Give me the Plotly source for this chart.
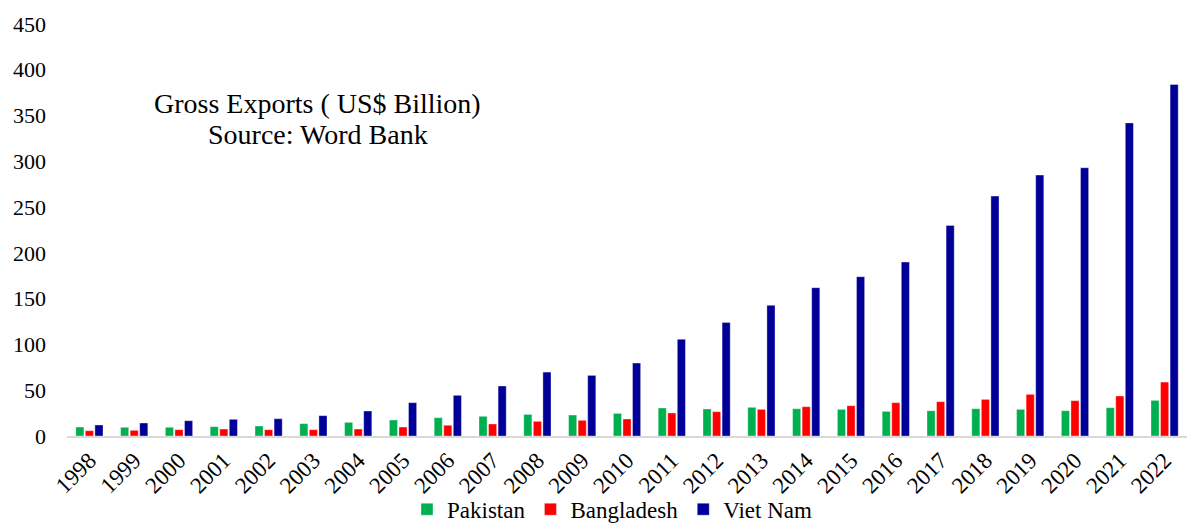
import plotly.graph_objects as go

# Gross exports, US$ billion
years = [str(y) for y in range(1998, 2023)]
pakistan = [9.8, 9.5, 9.5, 10.2, 10.9, 13.5, 14.9, 17.5, 20.0, 21.5, 23.6, 22.9, 24.7,
            30.6, 29.5, 31.3, 29.8, 29.1, 26.9, 27.6, 29.8, 29.1, 27.6, 30.9, 38.9]
bangladesh = [5.8, 6.2, 6.9, 7.6, 6.9, 6.9, 7.6, 9.8, 11.7, 13.1, 16.0, 17.1, 18.6,
              25.1, 26.6, 29.1, 32.0, 33.1, 36.4, 37.5, 40.0, 45.5, 38.6, 43.7, 58.9]
viet_nam = [12.0, 14.2, 16.7, 18.2, 18.9, 22.2, 27.3, 36.4, 44.4, 54.6, 69.8, 66.2, 79.7,
            105.6, 124.1, 142.7, 162.0, 174.0, 190.0, 230.0, 262.0, 285.0, 293.0, 342.0, 384.0]
y_ticks = [0, 50, 100, 150, 200, 250, 300, 350, 400, 450]
title_lines = ["Gross Exports ( US$ Billion)", "Source: Word Bank"]

series = [
    ("Pakistan", pakistan, "#00B050"),
    ("Bangladesh", bangladesh, "#FF0000"),
    ("Viet Nam", viet_nam, "#000099"),
]

font_family = "Liberation Serif, Times New Roman, serif"

fig = go.Figure()
for name, values, color in series:
    fig.add_trace(go.Bar(
        x=years, y=values, name=name,
        marker=dict(color=color, line=dict(color="rgba(255,255,255,0.6)", width=0.6)),
    ))

# two-line caption inside the plot, lines placed close together
caption = []
for i, line in enumerate(title_lines):
    caption.append(dict(
        text=line, xref="paper", yref="paper", x=0.224, y=0.806 - i * 0.073,
        xanchor="center", yanchor="middle", showarrow=False,
        font=dict(size=28, family=font_family, color="black"),
    ))

fig.update_layout(
    width=1187, height=525,
    margin=dict(l=67, r=0, t=24, b=89),
    paper_bgcolor="white", plot_bgcolor="white",
    barmode="group", bargap=0.36, bargroupgap=0.15,
    font=dict(family=font_family, color="black", size=22),
    showlegend=True,
    legend=dict(
        orientation="h", xref="container", yref="container",
        x=0.516, xanchor="center", y=0.03, yanchor="middle",
        font=dict(size=23, family=font_family), itemwidth=30,
        traceorder="normal", bgcolor="rgba(0,0,0,0)",
    ),
    annotations=caption,
)

fig.update_xaxes(
    type="category", tickangle=-45, showgrid=False, automargin=False,
    showline=True, linecolor="#D9D9D9", linewidth=2,
    ticks="", tickfont=dict(size=23, family=font_family, color="black"),
)
fig.update_yaxes(
    range=[0, 450], tickvals=y_ticks, showgrid=False, zeroline=False, automargin=False,
    showline=False, ticks="", ticklabelstandoff=20,
    tickfont=dict(size=22, family=font_family, color="black"),
)

fig.write_html("out.html")
